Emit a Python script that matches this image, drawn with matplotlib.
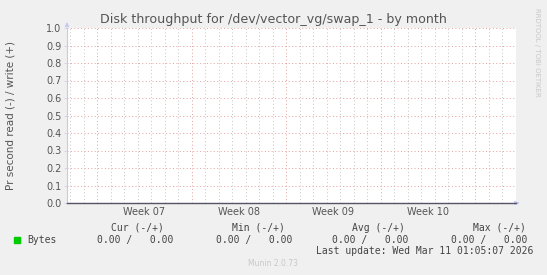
import matplotlib
matplotlib.use("Agg")
import matplotlib.pyplot as plt
import numpy as np

# ---- data ----
title = "Disk throughput for /dev/vector_vg/swap_1 - by month"
ylabel = "Pr second read (-) / write (+)"
week_labels = ["Week 07", "Week 08", "Week 09", "Week 10"]
week_starts = [0, 7, 14, 21, 28]          # days relative to start of Week 07
days = [-2.22, 0, 7, 14, 21, 28, 31.04]   # sample times (days)
bytes_values = [0, 0, 0, 0, 0, 0, 0]      # all zero
yticks = [0.0, 0.1, 0.2, 0.3, 0.4, 0.5, 0.6, 0.7, 0.8, 0.9, 1.0]
legend_headers = ["Cur (-/+)", "Min (-/+)", "Avg (-/+)", "Max (-/+)"]
legend_values = ["0.00 /   0.00", "0.00 /   0.00", "0.00 /   0.00", "0.00 /   0.00"]
series_name = "Bytes"
last_update = "Last update: Wed Mar 11 01:05:07 2026"
footer = "Munin 2.0.73"
side_text = "RRDTOOL / TOBI OETIKER"

W, H = 547, 275
fig = plt.figure(figsize=(W / 100, H / 100), dpi=100, facecolor="#f0f0f0")
x0, x1, y0, y1 = 67, 516, 28, 203
ax = fig.add_axes([x0 / W, 1 - y1 / H, (x1 - x0) / W, (y1 - y0) / H])
ax.set_facecolor("white")
xmin = (67 - 97) / 13.5
xmax = (516 - 97) / 13.5
ax.set_xlim(xmin, xmax)
ax.set_ylim(0, 1.0)

for s in ax.spines.values():
    s.set_visible(False)

# grid
for d in range(int(np.ceil(xmin)), int(np.floor(xmax)) + 1):
    if d in week_starts:
        continue
    ax.axvline(d, color="#c4c4c4", lw=0.7, ls=(0, (1, 2.5)), zorder=1)
for d in week_starts:
    ax.axvline(d, color="#e6a0a0", lw=0.7, ls=(0, (1, 2.5)), zorder=2)
for yv in yticks[1:]:
    ax.axhline(yv, color="#e6a0a0", lw=0.7, ls=(0, (1, 2.5)), zorder=2)

# data line
ax.plot(days, bytes_values, color="#555566", lw=1.0, zorder=4, clip_on=False)

# axes lines + arrows
ax.plot([xmin, xmin], [0, 1.0], color="#c8c8f0", lw=0.8, clip_on=False, zorder=3)
ax.annotate("", xy=(xmin, 1.05), xytext=(xmin, 0.99),
            arrowprops=dict(arrowstyle="-|>", color="#c8c8f0", lw=0.8,
                            mutation_scale=6), annotation_clip=False)
ax.annotate("", xy=(xmax + 0.45, 0), xytext=(xmax - 0.05, 0),
            arrowprops=dict(arrowstyle="-|>", color="#c8c8f0", lw=0.8,
                            mutation_scale=6), annotation_clip=False)

ax.set_yticks(yticks)
ax.set_yticklabels([f"{v:.1f}" for v in yticks])
ax.tick_params(axis="y", length=2, width=0.5, color="#c8c8f0", labelsize=7,
               labelcolor="#555555", pad=2)
ax.set_xticks([w + 3.5 for w in week_starts[:-1]])
ax.set_xticklabels(week_labels)
ax.tick_params(axis="x", length=0, labelsize=7, labelcolor="#555555", pad=3)

# texts
fig.text(273 / W, 1 - 19 / H, title, ha="center", va="center", fontsize=9.1,
         color="#555555")
fig.text(11 / W, 1 - 115 / H, ylabel, ha="center", va="center", rotation=90,
         fontsize=7.5, color="#555555")
fig.text(537 / W, 1 - 52 / H, side_text, ha="center", va="center", rotation=-90,
         fontsize=5, color="#c8c8c8")

mono = "DejaVu Sans Mono"
hdr_right = [164, 285, 405, 526]
val_right = [173, 292, 408, 527]
for hx, h in zip(hdr_right, legend_headers):
    fig.text(hx / W, 1 - 228 / H, h, ha="right", va="center", family=mono,
             fontsize=7, color="#444444")
for vx, v in zip(val_right, legend_values):
    fig.text(vx / W, 1 - 240 / H, v, ha="right", va="center", family=mono,
             fontsize=7, color="#444444")
fig.patches.append(plt.Rectangle((14 / W, 1 - 243 / H), 6 / W, 6 / H,
                                 transform=fig.transFigure, color="#00cc00"))
fig.text(27 / W, 1 - 240 / H, series_name, ha="left", va="center", family=mono,
         fontsize=7, color="#444444")
fig.text(533 / W, 1 - 251 / H, last_update, ha="right", va="center", family=mono,
         fontsize=7, color="#444444")
fig.text(273 / W, 1 - 264 / H, footer, ha="center", va="center", fontsize=5.5,
         color="#c8c8c8")

fig.savefig("out.png", dpi=100, facecolor=fig.get_facecolor())
